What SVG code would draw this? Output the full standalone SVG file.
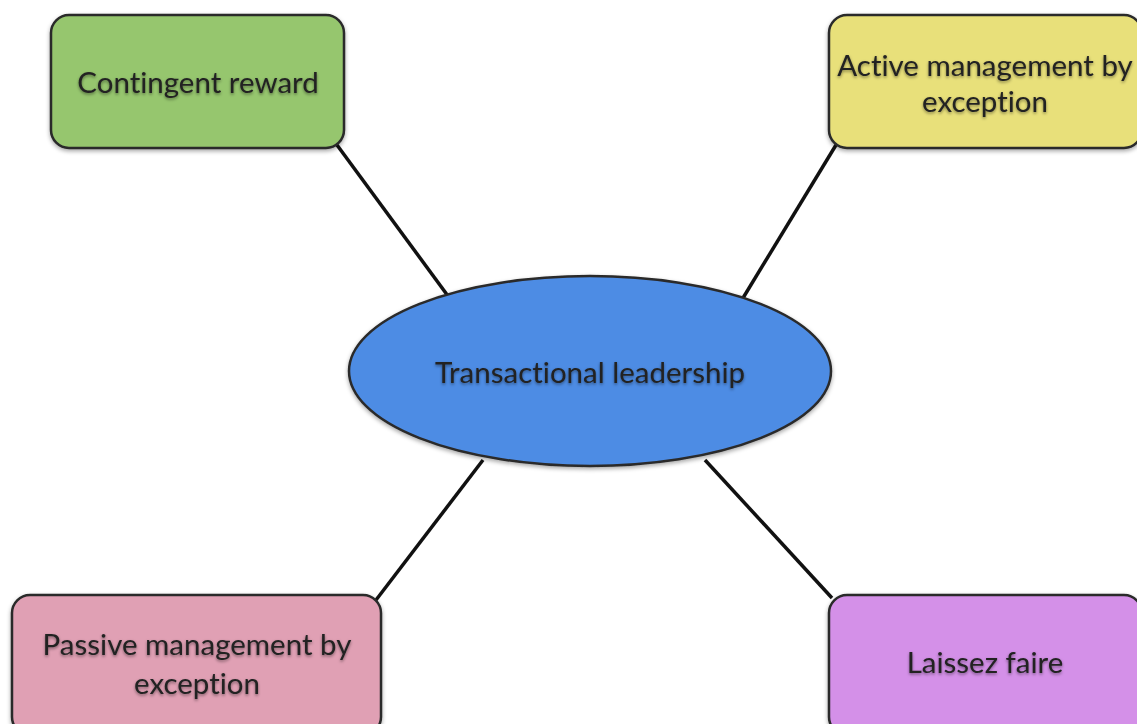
<svg xmlns="http://www.w3.org/2000/svg" width="1137" height="724" viewBox="0 0 1137 724">
<defs>
<filter id="sh" x="-10%" y="-10%" width="120%" height="130%">
<feDropShadow dx="0" dy="2" stdDeviation="2" flood-color="#000" flood-opacity="0.35"/>
</filter>
<filter id="tsh" x="-5%" y="-20%" width="110%" height="150%">
<feDropShadow dx="0" dy="1.5" stdDeviation="1.5" flood-color="#000" flood-opacity="0.45"/>
</filter>
</defs>
<style>
.box{stroke:#2a2a2a;stroke-width:2.5}
.lbl{font-family:Lato,"Liberation Sans",sans-serif;font-size:29.5px;fill:#222;text-anchor:middle;font-variant-ligatures:none;filter:url(#tsh)}
.conn{stroke:#111;stroke-width:3.5;fill:none}
</style>
<rect width="1137" height="724" fill="#fff"/>
<g id="connectors">
<line class="conn" x1="337" y1="145" x2="448" y2="296"/>
<line class="conn" x1="836" y1="145" x2="743" y2="298"/>
<line class="conn" x1="376" y1="600" x2="483" y2="460"/>
<line class="conn" x1="705" y1="460" x2="832" y2="598"/>
</g>
<g id="center">
<ellipse class="box" cx="590" cy="371" rx="241" ry="95" fill="#4E8CE4" filter="url(#sh)"/>
<text class="lbl" x="590" y="383">Transactional leadership</text>
</g>
<g id="contingent">
<rect class="box" x="51" y="15" width="293" height="133" rx="18" fill="#96C66E" filter="url(#sh)"/>
<text class="lbl" x="198" y="93">Contingent reward</text>
</g>
<g id="active">
<rect class="box" x="829" y="15" width="313" height="133" rx="18" fill="#E8E07A" filter="url(#sh)"/>
<text class="lbl" x="985" y="76">Active management by</text>
<text class="lbl" x="985" y="112">exception</text>
</g>
<g id="passive">
<rect class="box" x="12" y="595" width="369" height="140" rx="18" fill="#E0A0B4" filter="url(#sh)"/>
<text class="lbl" x="197" y="655">Passive management by</text>
<text class="lbl" x="197" y="694">exception</text>
</g>
<g id="laissez">
<rect class="box" x="829" y="595" width="313" height="140" rx="18" fill="#D490E8" filter="url(#sh)"/>
<text class="lbl" x="985" y="673">Laissez faire</text>
</g>
</svg>
